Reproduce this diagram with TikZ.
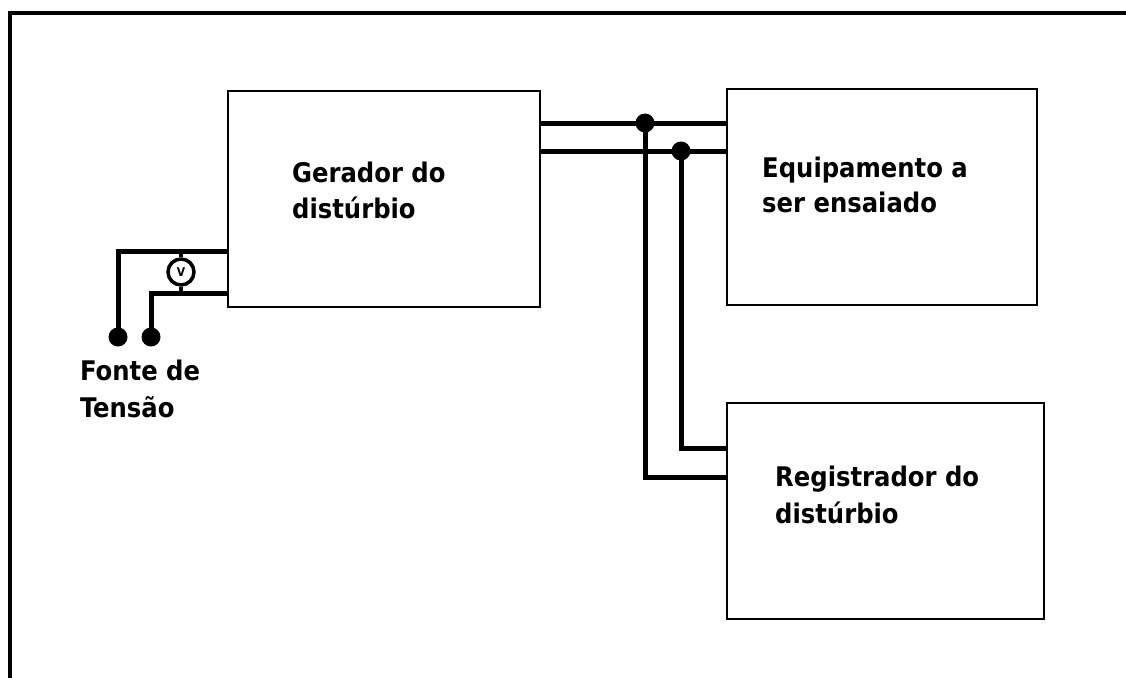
\documentclass[tikz,border=0pt]{standalone}
\usepackage{fontspec}
\setmainfont{DejaVu Sans Condensed}
\begin{document}
\begin{tikzpicture}[x=1pt,y=-1pt,
  blk/.style={draw,line width=2.4pt,inner sep=0pt,outer sep=0pt},
  wire/.style={line width=5pt,line join=miter},
  jdot/.style={circle,fill=black,inner sep=0pt,minimum size=19pt},
  lbl/.style={font=\fontsize{27}{33}\selectfont\bfseries,anchor=base west,inner sep=0pt}]
\useasboundingbox (0,0) rectangle (1126,677);
\fill[white] (0,0) rectangle (1126,677);
% frame
\draw[line width=4pt,line join=miter] (10,680) -- (10,13) -- (1130,13);
% boxes
\node[blk,minimum width=312pt,minimum height=216pt] (ger) at (384,199) {};
\node[blk,minimum width=310pt,minimum height=216pt] (equ) at (882,197) {};
\node[blk,minimum width=317pt,minimum height=216pt] (reg) at (885.5,511) {};
% labels
\node[lbl] (gerA) at (292,182) {Gerador do};
\node[lbl] (gerB) at (292,218) {distúrbio};
\node[lbl] (equA) at (762,177) {Equipamento a};
\node[lbl] (equB) at (762,212) {ser ensaiado};
\node[lbl] (regA) at (775,486) {Registrador do};
\node[lbl] (regB) at (775,523) {distúrbio};
\node[lbl] (fonA) at (80,380) {Fonte de};
\node[lbl] (fonB) at (80,417) {Tensão};
% right wiring
\node[jdot] (j1) at (645,123) {};
\node[jdot] (j2) at (681,151) {};
\draw[wire] (ger.east |- j1) -- (equ.west |- j1);
\draw[wire] (ger.east |- j2) -- (equ.west |- j2);
\coordinate (r1) at (reg.west |- 0,477);
\coordinate (r2) at (reg.west |- 0,448);
\draw[wire] (j1.center) |- (r1);
\draw[wire] (j2.center) |- (r2);
% left wiring
\coordinate (g1) at (ger.west |- 0,251);
\coordinate (g2) at (ger.west |- 0,293);
\node[jdot] (s1) at (118,337) {};
\node[jdot] (s2) at (151,337) {};
\draw[wire] (g1) -| (s1.center);
\draw[wire] (g2) -| (s2.center);
% voltmeter
\node[circle,draw,line width=3.5pt,minimum size=26pt,inner sep=0pt,fill=white] (vm) at (181,272) {\fontsize{12}{12}\selectfont\bfseries V};
\draw[line width=3.5pt] (vm.north) -- (vm.north |- g1);
\draw[line width=3.5pt] (vm.south) -- (vm.south |- g2);
\end{tikzpicture}
\end{document}
